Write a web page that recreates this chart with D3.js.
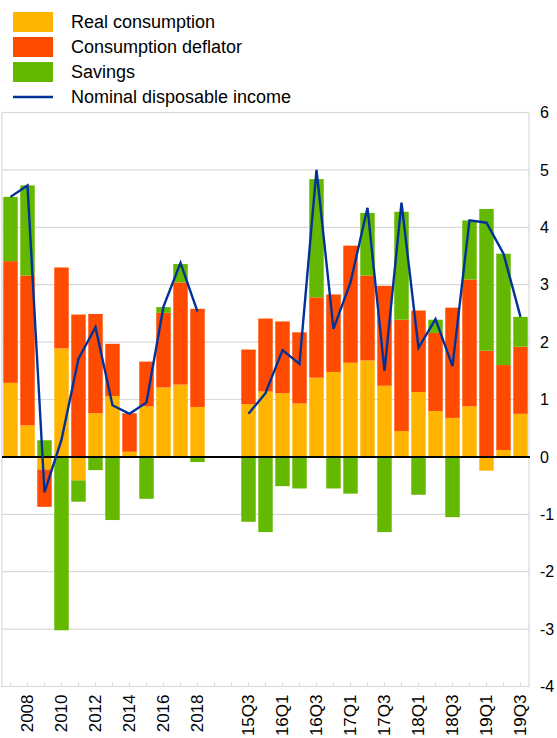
<!DOCTYPE html>
<html>
<head>
<meta charset="utf-8">
<script src="https://cdn.jsdelivr.net/npm/d3@7"></script>
<style>
  body { margin: 0; background: #fff; }
  text { font-family: "Liberation Sans", Arial, sans-serif; fill: #000; }
</style>
</head>
<body>
<div class="chart"></div>
<script>
// annual periods and quarterly periods
const years = ["2007","2008","2009","2010","2011","2012","2013","2014","2015","2016","2017","2018"];
const quarters = ["15Q3","15Q4","16Q1","16Q2","16Q3","16Q4","17Q1","17Q2","17Q3","17Q4","18Q1","18Q2","18Q3","18Q4","19Q1","19Q2","19Q3"];

// annual values (percentage changes / contributions)
const realAnnual   = [1.29, 0.55, -0.22, 1.89, -0.41, 0.76, 1.06, 0.09, 0.88, 1.21, 1.26, 0.87];
const deflAnnual   = [2.12, 2.61, -0.65, 1.41, 2.48, 1.73, 0.91, 0.67, 0.78, 1.30, 1.78, 1.71];
const savAnnual    = [1.12, 1.57, 0.29, -3.02, -0.37, -0.23, -1.10, -0.02, -0.73, 0.10, 0.32, -0.09];
const incomeAnnual = [4.53, 4.73, -0.62, 0.30, 1.71, 2.26, 0.90, 0.75, 0.95, 2.62, 3.38, 2.53];

// quarterly values
const realQuarter   = [0.92, 1.14, 1.11, 0.93, 1.38, 1.48, 1.64, 1.68, 1.24, 0.45, 1.13, 0.80, 0.68, 0.88, -0.24, 0.12, 0.75];
const deflQuarter   = [0.95, 1.27, 1.25, 1.24, 1.40, 1.35, 2.04, 1.48, 1.74, 1.94, 1.42, 1.36, 1.92, 2.21, 1.85, 1.48, 1.17];
const savQuarter    = [-1.13, -1.31, -0.51, -0.55, 2.06, -0.55, -0.64, 1.09, -1.31, 1.88, -0.66, 0.23, -1.05, 1.03, 2.47, 1.94, 0.52];
const incomeQuarter = [0.75, 1.11, 1.86, 1.62, 5.00, 2.23, 3.04, 4.34, 1.50, 4.43, 1.90, 2.40, 1.58, 4.12, 4.08, 3.54, 2.44];

const yTicks = [-4, -3, -2, -1, 0, 1, 2, 3, 4, 5, 6];
const seriesKeys = ["real", "defl", "sav"];
const seriesNames = ["Real consumption", "Consumption deflator", "Savings"];
const lineName = "Nominal disposable income";
const colors = { real: "#ffb400", defl: "#ff4b00", sav: "#65b800", line: "#003299" };

// build rows: annual, two empty slots, quarterly
const gaps = ["gap1", "gap2"];
const rows = [];
years.forEach((p, i) => rows.push({ period: p, real: realAnnual[i], defl: deflAnnual[i], sav: savAnnual[i], income: incomeAnnual[i] }));
gaps.forEach(p => rows.push({ period: p, real: 0, defl: 0, sav: 0, income: null }));
quarters.forEach((p, i) => rows.push({ period: p, real: realQuarter[i], defl: deflQuarter[i], sav: savQuarter[i], income: incomeQuarter[i] }));

const shownLabels = new Set([
  ...years.filter((d, i) => i % 2 === 1),
  ...quarters.filter((d, i) => i % 2 === 0)
]);

function init() {
  createChart(".chart");
}

function createChart(id) {
  const W = 557, H = 738;
  const plot = { left: 2, right: 529, top: 112.5, bottom: 686.5 };

  const svg = d3.select(id)
    .append("svg")
    .attr("width", W)
    .attr("height", H);

  const x = d3.scaleBand()
    .domain(rows.map(d => d.period))
    .range([plot.left, plot.right])
    .paddingInner(0.15)
    .paddingOuter(0.075);

  const y = d3.scaleLinear()
    .domain([-4, 6])
    .range([plot.bottom, plot.top]);

  // gridlines
  svg.append("g")
    .selectAll("line")
    .data(yTicks)
    .join("line")
    .attr("x1", plot.left).attr("x2", plot.right)
    .attr("y1", d => y(d)).attr("y2", d => y(d))
    .attr("stroke", "#d9d9d9")
    .attr("stroke-width", 1.2);

  // frame
  svg.append("rect")
    .attr("x", plot.left).attr("y", plot.top)
    .attr("width", plot.right - plot.left)
    .attr("height", plot.bottom - plot.top)
    .attr("fill", "none")
    .attr("stroke", "#d9d9d9")
    .attr("stroke-width", 1.2);

  // stacked bars, positives and negatives separate
  const stacked = d3.stack()
    .keys(seriesKeys)
    .offset(d3.stackOffsetDiverging)(rows);

  svg.append("g")
    .selectAll("g")
    .data(stacked)
    .join("g")
    .attr("fill", d => colors[d.key])
    .selectAll("rect")
    .data(d => d.filter(s => !gaps.includes(s.data.period)))
    .join("rect")
    .attr("x", d => x(d.data.period))
    .attr("width", x.bandwidth())
    .attr("y", d => y(Math.max(d[0], d[1])))
    .attr("height", d => Math.abs(y(d[0]) - y(d[1])));

  // bottom axis: ticks inside, rotated labels
  const xAxis = svg.append("g")
    .attr("transform", `translate(0, ${plot.bottom})`)
    .call(d3.axisBottom(x).tickSize(-4).tickPadding(9).tickFormat(d => shownLabels.has(d) ? d : ""));
  xAxis.select(".domain").remove();
  xAxis.selectAll(".tick line").attr("stroke", "#d9d9d9").attr("stroke-width", 1.2);
  xAxis.selectAll(".tick text")
    .attr("font-size", 17)
    .attr("transform", "rotate(-90)")
    .attr("text-anchor", "end")
    .attr("x", -8)
    .attr("y", 0)
    .attr("dy", "0.35em");

  // right axis labels
  const yAxis = svg.append("g")
    .attr("transform", `translate(${plot.right}, 0)`)
    .call(d3.axisRight(y).tickValues(yTicks).tickSize(0).tickPadding(11).tickFormat(d => String(d)));
  yAxis.select(".domain").remove();
  yAxis.selectAll(".tick text").attr("font-size", 16);

  // zero line
  svg.append("line")
    .attr("x1", plot.left).attr("x2", plot.right + 1)
    .attr("y1", y(0)).attr("y2", y(0))
    .attr("stroke", "#000")
    .attr("stroke-width", 2);

  // nominal disposable income line
  const line = d3.line()
    .defined(d => d.income != null)
    .x(d => x(d.period) + x.bandwidth() / 2)
    .y(d => y(d.income));

  svg.append("path")
    .datum(rows)
    .attr("fill", "none")
    .attr("stroke", colors.line)
    .attr("stroke-width", 2.4)
    .attr("stroke-linejoin", "miter")
    .attr("d", line);

  // legend
  const legend = svg.append("g").attr("transform", "translate(13, 12)");
  seriesKeys.forEach((k, i) => {
    const g = legend.append("g").attr("transform", `translate(0, ${i * 25})`);
    g.append("rect")
      .attr("width", 40).attr("height", 20)
      .attr("fill", colors[k]);
    g.append("text")
      .attr("x", 58).attr("y", 10)
      .attr("dy", "0.35em")
      .attr("font-size", 18)
      .text(seriesNames[i]);
  });
  const lg = legend.append("g").attr("transform", "translate(0, 75)");
  lg.append("line")
    .attr("x1", 0).attr("x2", 40)
    .attr("y1", 10).attr("y2", 10)
    .attr("stroke", colors.line)
    .attr("stroke-width", 2.5);
  lg.append("text")
    .attr("x", 58).attr("y", 10)
    .attr("dy", "0.35em")
    .attr("font-size", 18)
    .text(lineName);
}

init();
</script>
</body>
</html>
